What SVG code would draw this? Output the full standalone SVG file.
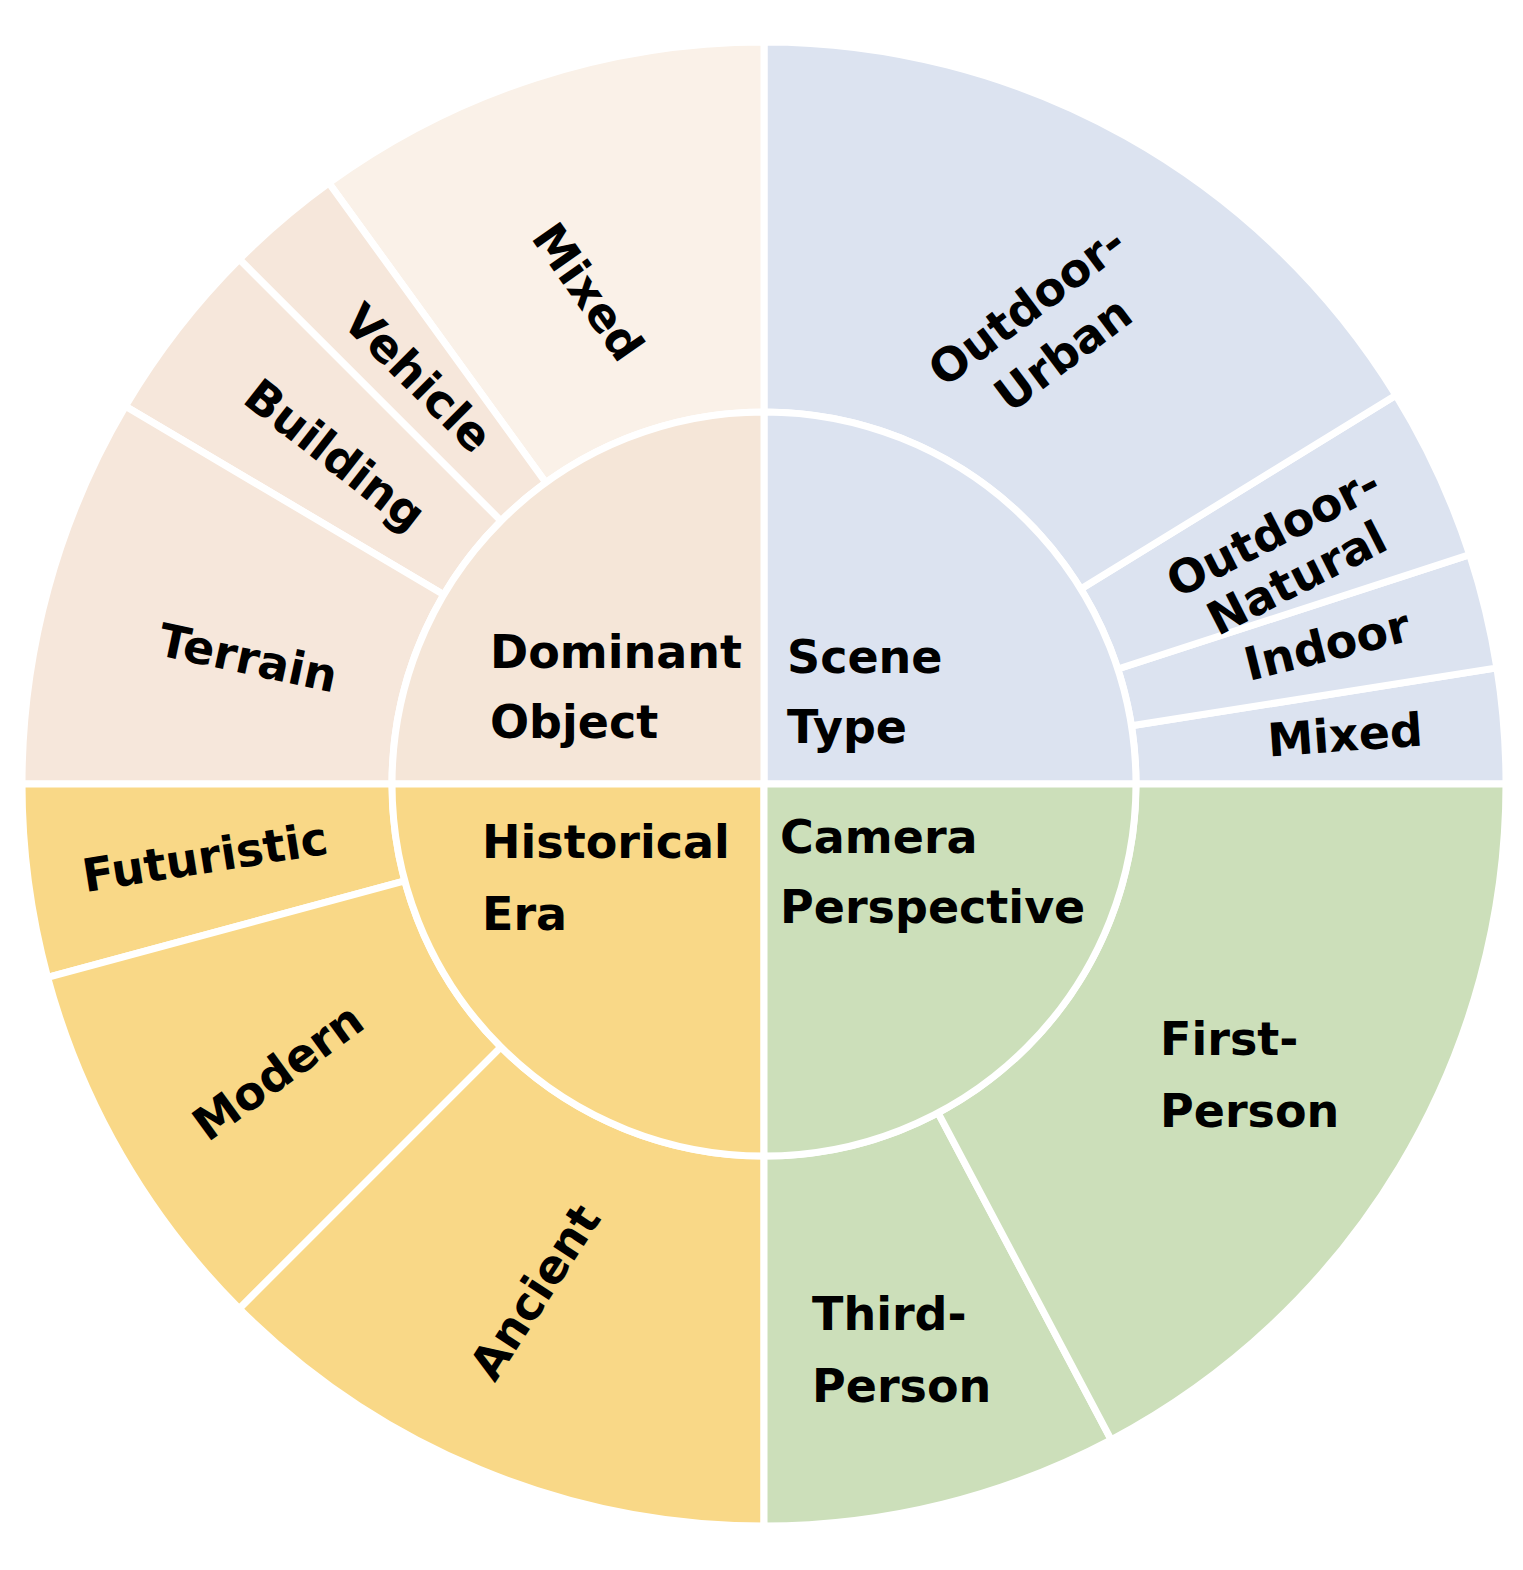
<svg xmlns="http://www.w3.org/2000/svg" width="1523" height="1570" viewBox="0 0 1523 1570">
<style>
path{stroke:#fff;stroke-width:7;stroke-linejoin:round}
.b{fill:#DCE3F0}.p1{fill:#FAF1E8}.p2{fill:#F6E7DB}.pi{fill:#F5E6D8}.y{fill:#F9D887}.g{fill:#CCDFBA}
text{font-family:"Comic Sans MS","DejaVu Sans",sans-serif;font-weight:bold;font-size:46px;fill:#000}
.c{text-anchor:middle}
</style>
<rect width="1523" height="1570" fill="#fff"/>
<g id="outer">
<path class="b" d="M1136,784 L1506,784 A742,742 0 0 0 1496.9,667.9 L1131.4,725.8 A372,372 0 0 1 1136,784 Z"/>
<path class="b" d="M1131.4,725.8 L1496.9,667.9 A742,742 0 0 0 1469.7,554.7 L1117.8,669 A372,372 0 0 1 1131.4,725.8 Z"/>
<path class="b" d="M1117.8,669 L1469.7,554.7 A742,742 0 0 0 1395.9,395.2 L1080.8,589.1 A372,372 0 0 1 1117.8,669 Z"/>
<path class="b" d="M1080.8,589.1 L1395.9,395.2 A742,742 0 0 0 764,42 L764,412 A372,372 0 0 1 1080.8,589.1 Z"/>
<path class="p1" d="M764,412 L764,42 A742,742 0 0 0 328.9,183 L545.9,482.7 A372,372 0 0 1 764,412 Z"/>
<path class="p2" d="M545.9,482.7 L328.9,183 A742,742 0 0 0 239.3,259.3 L500.9,520.9 A372,372 0 0 1 545.9,482.7 Z"/>
<path class="p2" d="M500.9,520.9 L239.3,259.3 A742,742 0 0 0 125.4,406.3 L443.8,594.7 A372,372 0 0 1 500.9,520.9 Z"/>
<path class="p2" d="M443.8,594.7 L125.4,406.3 A742,742 0 0 0 22,784 L392,784 A372,372 0 0 1 443.8,594.7 Z"/>
<path class="y" d="M392,784 L22,784 A742,742 0 0 0 47.6,977.3 L404.8,880.9 A372,372 0 0 1 392,784 Z"/>
<path class="y" d="M404.8,880.9 L47.6,977.3 A742,742 0 0 0 239.3,1308.7 L500.9,1047.1 A372,372 0 0 1 404.8,880.9 Z"/>
<path class="y" d="M500.9,1047.1 L239.3,1308.7 A742,742 0 0 0 764,1526 L764,1156 A372,372 0 0 1 500.9,1047.1 Z"/>
<path class="g" d="M764,1156 L764,1526 A742,742 0 0 0 1111.2,1439.8 L938.1,1112.8 A372,372 0 0 1 764,1156 Z"/>
<path class="g" d="M938.1,1112.8 L1111.2,1439.8 A742,742 0 0 0 1506,784 L1136,784 A372,372 0 0 1 938.1,1112.8 Z"/>
</g>
<g id="inner">
<path class="b" d="M764,784 L1136,784 A372,372 0 0 0 764,412 Z"/>
<path class="pi" d="M764,784 L764,412 A372,372 0 0 0 392,784 Z"/>
<path class="y" d="M764,784 L392,784 A372,372 0 0 0 764,1156 Z"/>
<path class="g" d="M764,784 L764,1156 A372,372 0 0 0 1136,784 Z"/>
</g>
<g id="labels">
<text x="490" y="668" font-size="50">Dominant</text><text x="490" y="738" font-size="50">Object</text>
<text x="787" y="673" font-size="50">Scene</text><text x="787" y="743" font-size="50">Type</text>
<text x="482" y="858" font-size="50">Historical</text><text x="482" y="930" font-size="50">Era</text>
<text x="780" y="853" font-size="50">Camera</text><text x="780" y="923" font-size="50">Perspective</text>
<text class="c" transform="translate(588,292) rotate(55)" y="16">Mixed</text>
<text class="c" transform="translate(418,378) rotate(45)" y="16">Vehicle</text>
<text class="c" transform="translate(335,455) rotate(38)" y="16">Building</text>
<text class="c" transform="translate(248,658) rotate(12)" y="16">Terrain</text>
<text class="c" transform="translate(1045,330) rotate(-37)"><tspan x="0" y="-14">Outdoor-</tspan><tspan x="0" y="46">Urban</tspan></text>
<text class="c" transform="translate(1285,555) rotate(-27)"><tspan x="0" y="-10">Outdoor-</tspan><tspan x="0" y="42">Natural</tspan></text>
<text class="c" transform="translate(1327,645) rotate(-14)" y="16">Indoor</text>
<text class="c" transform="translate(1345,735) rotate(-4)" y="16">Mixed</text>
<text class="c" transform="translate(205,857) rotate(-9)" y="16">Futuristic</text>
<text class="c" transform="translate(278,1072) rotate(-36)" y="16">Modern</text>
<text class="c" transform="translate(535,1292) rotate(-57)" y="16">Ancient</text>
<text x="1160" y="1055" font-size="50">First-</text><text x="1160" y="1127" font-size="50">Person</text>
<text x="812" y="1330" font-size="50">Third-</text><text x="812" y="1402" font-size="50">Person</text>
</g>
</svg>
